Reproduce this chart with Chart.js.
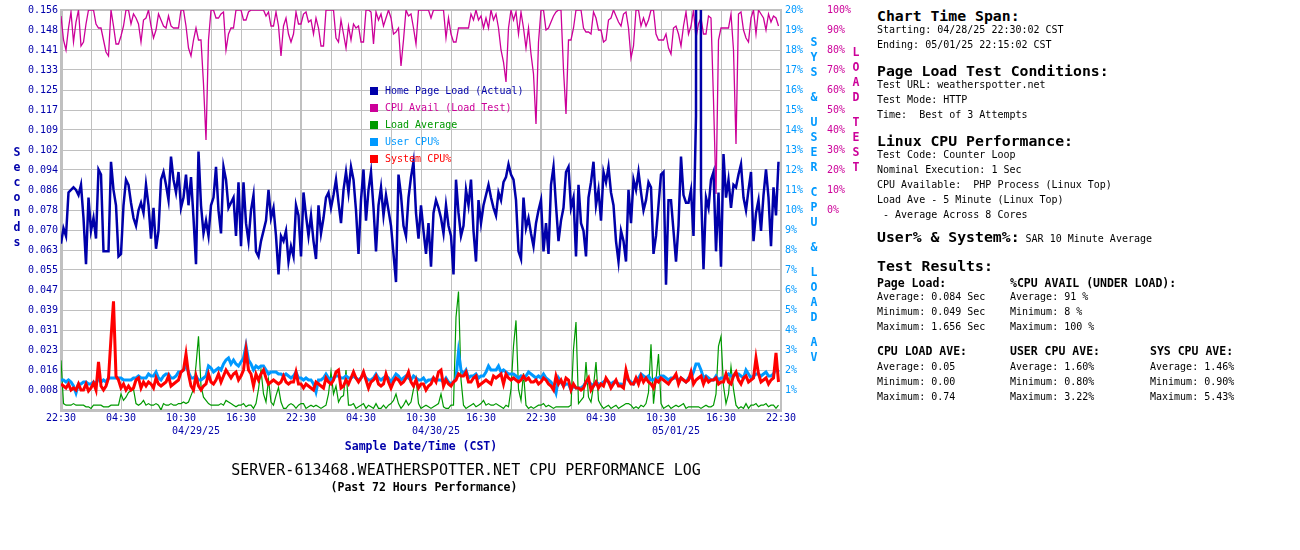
<!DOCTYPE html>
<html>
<head>
<meta charset="utf-8">
<script src="https://cdn.jsdelivr.net/npm/chart.js@4/dist/chart.umd.min.js"></script>
<style>
html,body{margin:0;padding:0;background:#fff;}
body{width:1300px;height:550px;position:relative;overflow:hidden;font-family:"DejaVu Sans Mono",monospace;}
#wrap{position:absolute;left:0;top:0;width:870px;height:550px;}
.t{position:absolute;white-space:pre;font-family:"DejaVu Sans Mono",monospace;color:#000;}
.h{font-size:14.8px;font-weight:bold;line-height:18px;}
.b{font-size:10px;line-height:14px;}
.sb{font-size:11.5px;font-weight:bold;line-height:14px;}
.stack{position:absolute;font-family:"DejaVu Sans Mono",monospace;font-weight:bold;font-size:11.5px;text-align:center;width:20px;}
.stack span{display:block;height:15px;line-height:15px;}
.stack span.sp{height:10px;}
.lgbox{position:absolute;width:8px;height:8px;}
.lgtxt{position:absolute;font-family:"DejaVu Sans Mono",monospace;font-size:10px;line-height:14px;white-space:pre;}
</style>
</head>
<body>
<div id="wrap"><canvas id="c" width="870" height="550"></canvas></div>
<div id="overlay"></div>
<script>
// ---------------- data ----------------
// 15-minute samples, 04/28/25 22:30 -> 05/01/25 22:15 CST
const pageLoad = [
0.065,0.071,0.068,0.085,0.086,0.087,0.086,0.084,0.088,0.075,
0.057,0.083,0.070,0.075,0.067,0.094,0.092,0.062,0.062,0.062,
0.097,0.086,0.080,0.060,0.061,0.080,0.090,0.088,0.081,0.075,
0.072,0.078,0.081,0.077,0.088,0.080,0.067,0.079,0.063,0.070,
0.090,0.093,0.088,0.082,0.099,0.090,0.085,0.093,0.079,0.083,
0.092,0.080,0.091,0.075,0.057,0.101,0.080,0.069,0.074,0.068,
0.080,0.083,0.095,0.078,0.069,0.095,0.090,0.079,0.081,0.083,
0.068,0.089,0.064,0.089,0.073,0.066,0.078,0.084,0.062,0.060,
0.066,0.070,0.074,0.086,0.075,0.079,0.068,0.053,0.068,0.066,
0.070,0.058,0.064,0.060,0.080,0.076,
0.060,0.085,0.076,0.068,0.076,0.066,0.059,0.080,0.069,0.075,
0.083,0.085,0.079,0.084,0.090,0.081,0.073,0.086,0.093,0.085,
0.095,0.090,0.078,0.061,0.082,0.094,0.074,0.086,0.093,0.079,
0.062,0.080,0.087,0.076,0.084,0.078,0.072,0.061,0.050,0.092,
0.084,0.072,0.068,0.083,0.091,0.097,0.077,0.067,0.080,0.070,
0.061,0.073,0.056,0.077,0.082,0.079,0.075,0.069,0.080,0.072,
0.068,0.053,0.090,0.077,0.068,0.072,0.086,0.080,0.090,0.070,
0.058,0.082,0.073,0.080,0.084,0.088,0.083,0.079,0.076,0.085,
0.082,0.089,0.091,0.096,0.092,0.090,0.082,0.062,0.059,0.083,
0.071,0.075,0.069,0.064,0.073,0.078,
0.082,0.062,0.073,0.061,0.088,0.095,0.080,0.066,0.074,0.079,
0.093,0.095,0.079,0.083,0.060,0.088,0.073,0.070,0.060,0.083,
0.089,0.097,0.080,0.086,0.074,0.093,0.089,0.095,0.085,0.080,
0.066,0.058,0.070,0.066,0.058,0.086,0.073,0.090,0.086,0.093,
0.085,0.078,0.082,0.089,0.087,0.061,0.068,0.080,0.092,0.093,
0.049,0.082,0.082,0.070,0.058,0.072,0.099,0.084,0.081,0.081,
0.086,0.068,0.115,1.656,0.086,0.055,0.083,0.079,0.090,0.093,
0.062,0.085,0.056,0.100,0.083,0.090,0.079,0.088,0.087,0.092,
0.096,0.083,0.078,0.086,0.093,0.066,0.077,0.082,0.070,0.084,
0.094,0.083,0.064,0.087,0.076,0.097
];

const cpuAvail = [
97,85,80,91,99,84,94,100,82,84,
93,100,100,100,93,91,91,85,79,77,
100,92,83,83,87,92,100,100,93,98,
96,93,84,95,96,100,92,86,90,98,
95,92,91,97,92,91,91,91,100,100,
92,81,77,85,91,85,85,63,35,85,
100,100,96,96,98,99,80,88,91,91,
100,100,100,95,95,99,100,100,100,100,
100,100,97,99,92,92,99,92,77,92,
96,88,84,88,99,93,
93,98,99,94,95,88,96,91,82,82,
100,100,100,100,86,84,95,88,81,92,
85,93,91,92,84,84,100,100,99,83,
99,95,98,92,96,100,96,88,89,91,
72,85,100,97,98,91,83,100,100,100,
100,100,96,100,100,100,100,100,86,96,
88,84,84,91,91,91,91,91,98,95,
100,95,97,91,96,91,100,95,98,91,
80,74,64,91,100,95,99,88,99,91,
81,91,78,68,43,84,
100,100,90,91,94,97,99,100,100,70,
48,85,85,91,100,100,100,91,89,89,
88,99,96,90,90,84,85,95,96,100,
97,94,92,98,99,91,76,82,100,100,
92,96,92,95,100,100,88,85,85,85,
88,81,78,91,92,88,82,92,99,88,
92,100,86,93,96,88,88,97,96,55,
8,85,91,91,91,91,98,80,33,98,
99,90,86,84,96,100,88,100,98,96,
90,98,94,97,96,92
];

const loadAverage = [
0.31,0.04,0.03,0.03,0.03,0.04,0.03,0.03,0.03,0.03,
0.02,0.02,0.01,0.03,0.03,0.03,0.03,0.02,0.02,0.02,
0.03,0.03,0.03,0.03,0.10,0.06,0.08,0.11,0.12,0.13,
0.04,0.03,0.04,0.06,0.03,0.04,0.03,0.03,0.04,0.03,
0.00,0.04,0.03,0.03,0.04,0.03,0.03,0.04,0.04,0.05,
0.04,0.05,0.09,0.13,0.28,0.46,0.15,0.08,0.06,0.04,
0.03,0.03,0.03,0.03,0.04,0.03,0.06,0.05,0.04,0.03,
0.02,0.03,0.03,0.04,0.02,0.03,0.03,0.01,0.04,0.13,
0.25,0.10,0.05,0.19,0.05,0.03,0.09,0.14,0.05,0.01,
0.01,0.03,0.04,0.03,0.01,0.03,
0.04,0.04,0.01,0.02,0.03,0.02,0.03,0.02,0.01,0.02,
0.03,0.10,0.24,0.10,0.15,0.05,0.08,0.09,0.25,0.03,
0.03,0.04,0.01,0.02,0.03,0.04,0.01,0.03,0.02,0.01,
0.04,0.01,0.01,0.03,0.01,0.03,0.04,0.06,0.10,0.04,
0.01,0.03,0.06,0.03,0.05,0.13,0.20,0.04,0.01,0.02,
0.03,0.02,0.01,0.02,0.03,0.04,0.10,0.02,0.01,0.01,
0.03,0.03,0.58,0.74,0.19,0.03,0.01,0.02,0.03,0.04,
0.02,0.03,0.04,0.06,0.03,0.04,0.03,0.03,0.04,0.03,
0.02,0.01,0.03,0.02,0.13,0.40,0.56,0.13,0.06,0.23,
0.03,0.01,0.02,0.01,0.02,0.03,
0.03,0.04,0.02,0.03,0.02,0.01,0.02,0.02,0.02,0.02,
0.02,0.02,0.03,0.38,0.55,0.04,0.06,0.08,0.30,0.08,
0.05,0.15,0.30,0.06,0.03,0.01,0.02,0.03,0.01,0.02,
0.03,0.01,0.02,0.03,0.04,0.04,0.03,0.01,0.02,0.01,
0.03,0.02,0.04,0.11,0.41,0.04,0.19,0.35,0.04,0.01,
0.02,0.03,0.01,0.02,0.03,0.02,0.03,0.04,0.01,0.02,
0.02,0.02,0.02,0.02,0.01,0.02,0.03,0.02,0.02,0.03,
0.10,0.40,0.46,0.15,0.04,0.10,0.27,0.13,0.03,0.01,
0.02,0.01,0.04,0.01,0.03,0.03,0.04,0.02,0.03,0.03,
0.04,0.02,0.03,0.03,0.01,0.03
];

const userCpu = [
1.5,1.5,1.4,1.5,1.4,1.2,0.85,1.3,1.3,1.4,
1.4,1.3,1.3,1.4,1.3,1.6,1.4,1.5,1.4,1.6,
1.6,1.6,1.6,1.6,1.6,1.5,1.5,1.5,1.5,1.6,
1.6,1.7,1.6,1.6,1.6,1.8,1.7,1.7,1.9,1.6,
1.5,1.7,1.8,1.8,1.6,1.6,1.7,1.9,1.9,2.0,
2.2,1.9,1.6,1.6,1.7,1.5,1.5,1.6,1.7,2.2,
2.1,1.9,2.0,2.1,2.0,2.3,2.5,2.6,2.3,2.5,
2.3,2.2,2.4,2.6,3.22,2.5,2.3,2.0,2.2,2.1,
2.2,2.2,2.0,1.8,1.9,1.9,1.9,1.8,1.8,1.7,
1.8,1.7,1.6,1.7,1.9,1.6,
1.6,1.5,1.6,1.5,1.5,1.3,0.9,1.5,1.5,1.6,
1.8,1.6,1.5,1.6,1.7,1.7,1.6,1.6,1.7,1.6,
1.6,1.7,1.6,1.5,1.6,1.8,1.6,1.5,1.5,1.6,
1.8,1.6,1.5,1.6,1.7,1.6,1.4,1.6,1.8,1.7,
1.5,1.6,1.7,1.6,1.5,1.7,1.6,1.5,1.5,1.6,
1.4,1.5,1.5,1.6,1.5,1.5,1.5,1.4,1.6,1.4,
1.3,1.4,1.6,2.9,2.0,1.8,2.0,1.6,1.7,1.7,
1.8,1.6,1.7,1.7,1.9,2.2,2.0,2.0,2.0,2.2,
1.9,2.0,1.9,1.8,1.8,1.8,1.7,1.6,1.7,1.6,
1.7,1.9,1.8,1.7,1.6,1.7,
1.6,1.8,1.6,1.5,1.4,1.2,0.85,1.6,1.4,1.2,
1.3,1.3,1.0,1.2,1.1,1.1,1.1,1.2,1.4,1.4,
1.3,1.2,1.4,1.3,1.3,1.4,1.5,1.4,1.3,1.4,
1.4,1.3,1.3,1.2,1.7,1.5,1.4,1.3,1.5,1.6,
1.8,1.7,1.6,1.7,1.5,1.5,1.6,1.6,1.7,1.7,
1.6,1.5,1.6,1.6,1.6,1.5,1.6,1.5,1.4,1.6,
1.6,1.9,2.3,2.3,2.0,1.6,1.7,1.6,1.5,1.5,
1.7,1.5,1.6,1.6,1.7,1.8,1.7,1.7,1.8,1.8,
1.7,1.6,2.0,1.8,1.6,1.7,1.8,1.8,1.7,1.8,
1.9,1.7,1.7,1.8,2.1,1.9
];

const systemCpu = [
1.3,1.2,1.1,1.3,1.0,1.1,1.0,1.3,1.0,1.0,
1.3,0.95,1.1,1.35,1.0,2.4,1.2,1.0,1.2,1.6,
3.6,5.43,1.7,1.5,1.1,1.3,1.0,1.2,1.0,1.1,
1.5,1.6,1.1,1.4,1.2,1.4,1.3,1.1,1.6,1.3,
1.2,1.3,1.4,1.7,1.2,1.3,1.4,1.5,1.9,2.0,
2.8,1.8,1.2,1.0,1.7,1.2,1.0,1.2,1.3,1.8,
1.4,1.3,1.5,1.8,1.4,1.7,2.0,1.8,1.6,1.8,
1.9,1.5,1.7,2.0,3.0,2.0,1.8,1.2,1.8,1.5,
1.8,2.0,1.6,1.3,1.4,1.5,1.4,1.3,1.4,1.7,
1.4,1.3,1.4,1.4,1.9,1.3,
1.3,1.1,1.3,1.2,1.1,1.0,1.4,1.3,1.2,1.1,
1.6,1.4,1.3,1.5,1.9,2.0,1.1,1.2,1.5,1.3,
1.6,1.9,1.6,1.4,1.6,1.9,1.5,1.1,1.4,1.5,
1.7,1.3,1.2,1.3,1.8,1.4,1.1,1.4,1.6,1.5,
1.3,1.4,1.6,1.9,1.4,1.2,1.5,1.1,1.3,1.3,
1.0,1.2,1.3,1.6,1.4,1.9,2.0,1.2,1.5,1.3,
1.2,1.4,1.5,1.8,1.7,1.7,1.9,1.4,1.4,1.6,
1.7,1.2,1.3,1.4,1.5,1.4,1.3,1.7,1.6,1.7,
1.8,1.3,1.8,1.6,1.5,1.6,1.5,1.4,1.5,1.7,
1.5,1.6,1.4,1.4,1.5,1.3,
1.4,1.6,1.5,1.3,1.2,1.0,1.7,1.3,1.5,1.2,
1.6,1.5,1.0,1.3,1.1,1.1,1.0,1.1,1.4,1.6,
1.0,1.2,1.4,1.1,1.3,1.2,1.6,1.4,1.1,1.3,
1.5,1.2,1.2,1.1,2.0,1.5,1.3,1.3,1.6,1.3,
1.7,1.4,1.6,1.4,1.3,1.1,1.5,1.4,1.6,1.5,
1.4,1.3,1.5,1.6,1.8,1.3,1.6,1.5,1.4,1.5,
1.9,1.3,1.5,1.6,1.7,1.3,1.6,1.4,1.5,1.5,
1.6,1.3,1.4,1.4,1.8,1.4,1.3,1.7,1.9,1.5,
1.3,1.6,1.7,1.4,1.5,1.6,2.6,1.8,1.4,1.5,
1.6,1.3,1.5,1.6,2.85,1.4
];

// tick labels
const hourLabels = ['22:30','04:30','10:30','16:30','22:30','04:30','10:30','16:30','22:30','04:30','10:30','16:30','22:30'];
const dateLabels = ['04/29/25','04/30/25','05/01/25'];
const secondsLabels = ['0.008','0.016','0.023','0.031','0.039','0.047','0.055','0.063','0.070','0.078',
                       '0.086','0.094','0.102','0.109','0.117','0.125','0.133','0.141','0.148','0.156'];
const cpuPctLabels = ['1%','2%','3%','4%','5%','6%','7%','8%','9%','10%','11%','12%','13%','14%','15%','16%','17%','18%','19%','20%'];
const loadTestLabels = ['0%','10%','20%','30%','40%','50%','60%','70%','80%','90%','100%'];

const seriesNames = ['Home Page Load (Actual)','CPU Avail (Load Test)','Load Average','User CPU%','System CPU%'];
const seriesColors = ['#0000aa','#cc0099','#009900','#0099ff','#ff0000'];

// ---------------- chart ----------------
const MONO = '"DejaVu Sans Mono", monospace';
const HOURS_PER_SAMPLE = 0.25;
const SPAN_HOURS = 72;
const SEC_MAX = 0.1563;
const CORES = 8;
const toPts = arr => arr.map((v, i) => ({x: i * HOURS_PER_SAMPLE, y: v}));
const gridHours = [];
for (let h = 0; h <= SPAN_HOURS; h += 3) gridHours.push(h);
const dayCenters = [13.5, 37.5, 61.5];

Chart.defaults.font.family = MONO;

new Chart(document.getElementById('c'), {
  type: 'line',
  data: {
    datasets: [
      {label: seriesNames[0], data: toPts(pageLoad), borderColor: seriesColors[0], borderWidth: 2.5, yAxisID: 'y'},
      {label: seriesNames[4], data: toPts(systemCpu), borderColor: seriesColors[4], borderWidth: 3, yAxisID: 'y1'},
      {label: seriesNames[3], data: toPts(userCpu), borderColor: seriesColors[3], borderWidth: 3, yAxisID: 'y1'},
      {label: seriesNames[2], data: toPts(loadAverage), borderColor: seriesColors[2], borderWidth: 1.2, yAxisID: 'yLoad'},
      {label: seriesNames[1], data: toPts(cpuAvail), borderColor: seriesColors[1], borderWidth: 1.3, yAxisID: 'y2'}
    ]
  },
  options: {
    responsive: false,
    animation: false,
    devicePixelRatio: 1,
    layout: {padding: {top: 10, bottom: 96, left: 0, right: 0}},
    elements: {point: {radius: 0}, line: {tension: 0}},
    plugins: {legend: {display: false}, tooltip: {enabled: false}},
    scales: {
      x: {
        type: 'linear', position: 'bottom', min: 0, max: SPAN_HOURS,
        afterBuildTicks: ax => { ax.ticks = gridHours.map(v => ({value: v})); },
        ticks: {autoSkip: false, maxRotation: 0, padding: 2, color: '#0000aa', font: {size: 10},
                callback: v => (v % 6 === 0 ? hourLabels[v / 6] : '')},
        grid: {color: '#c0c0c0', drawTicks: false,
               lineWidth: c => (c.tick && (c.tick.value === 24 || c.tick.value === 48)) ? 2 : 1},
        border: {display: true, color: '#c0c0c0', width: 3},
        afterFit: ax => { ax.height = 14; }
      },
      xDate: {
        type: 'linear', position: 'bottom', min: 0, max: SPAN_HOURS,
        afterBuildTicks: ax => { ax.ticks = dayCenters.map(v => ({value: v})); },
        ticks: {autoSkip: false, maxRotation: 0, padding: 1, color: '#0000aa', font: {size: 10},
                callback: (v, i) => dateLabels[i]},
        grid: {display: false, drawTicks: false},
        border: {display: false},
        title: {display: true, text: 'Sample Date/Time (CST)', color: '#0000aa',
                font: {size: 11.5, weight: 'bold'}, padding: {top: 0, bottom: 0}},
        afterFit: ax => { ax.height = 30; }
      },
      y: {
        type: 'linear', position: 'left', min: 0, max: SEC_MAX,
        afterBuildTicks: ax => { ax.ticks = Array.from({length: 21}, (_, k) => ({value: k * SEC_MAX / 20})); },
        ticks: {autoSkip: false, padding: 3, color: '#0000aa', font: {size: 10},
                callback: (v, i) => (i === 0 ? '' : secondsLabels[i - 1])},
        grid: {color: '#c0c0c0', drawTicks: false, lineWidth: c => (c.index === 20 ? 2 : 1)},
        border: {display: true, color: '#c0c0c0', width: 3},
        afterFit: ax => { ax.width = 61; }
      },
      y1: {
        type: 'linear', position: 'right', min: 0, max: 20,
        afterBuildTicks: ax => { ax.ticks = Array.from({length: 21}, (_, k) => ({value: k})); },
        ticks: {autoSkip: false, padding: 4, color: '#0099ff', font: {size: 10},
                callback: (v, i) => (i === 0 ? '' : cpuPctLabels[i - 1])},
        grid: {display: false, drawTicks: false},
        border: {display: true, color: '#c0c0c0', width: 2},
        afterFit: ax => { ax.width = 44; }
      },
      y2: {
        type: 'linear', position: 'right', min: -100, max: 100,
        afterBuildTicks: ax => { ax.ticks = Array.from({length: 11}, (_, k) => ({value: k * 10})); },
        ticks: {autoSkip: false, padding: 2, color: '#cc0099', font: {size: 10},
                callback: (v, i) => loadTestLabels[i]},
        grid: {display: false, drawTicks: false},
        border: {display: false},
        afterFit: ax => { ax.width = 45; }
      },
      yLoad: {type: 'linear', display: false, min: 0, max: 20 / CORES}
    }
  }
});

// ---------------- text overlays ----------------
const ov = document.getElementById('overlay');
function add(html) { ov.insertAdjacentHTML('beforeend', html); }
function txt(cls, x, cy, lh, s, extra) {
  add(`<div class="t ${cls}" style="left:${x}px;top:${cy - lh / 2}px;${extra || ''}">${s}</div>`);
}
function stack(cx, firstCy, word, color) {
  let inner = '';
  for (const ch of word) inner += ch === ' ' ? '<span class="sp"></span>' : `<span>${ch === '&' ? '&amp;' : ch}</span>`;
  add(`<div class="stack" style="left:${cx - 10}px;top:${firstCy - 7.5}px;color:${color}">${inner}</div>`);
}
stack(17, 152, 'Seconds', '#0000aa');
stack(814, 42, 'SYS & USER CPU & LOAD AV', '#0099ff');
stack(856, 52, 'LOAD TEST', '#cc0099');

// legend
seriesNames.forEach((n, k) => {
  const cy = 91 + k * 17;
  add(`<div class="lgbox" style="left:370px;top:${cy - 4}px;background:${seriesColors[k]}"></div>`);
  add(`<div class="lgtxt" style="left:385px;top:${cy - 7}px;color:${seriesColors[k]}">${n}</div>`);
});

// titles
add(`<div class="t" style="left:0;width:932px;text-align:center;top:461px;font-size:15px;line-height:18px;">SERVER-613468.WEATHERSPOTTER.NET CPU PERFORMANCE LOG</div>`);
add(`<div class="t" style="left:0;width:848px;text-align:center;top:480px;font-size:11.5px;font-weight:bold;line-height:14px;">(Past 72 Hours Performance)</div>`);

// right panel
const X1 = 877, X2 = 1010, X3 = 1150;
txt('h', X1, 16, 18, 'Chart Time Span:');
txt('b', X1, 30, 14, 'Starting: 04/28/25 22:30:02 CST');
txt('b', X1, 45, 14, 'Ending: 05/01/25 22:15:02 CST');
txt('h', X1, 71, 18, 'Page Load Test Conditions:');
txt('b', X1, 85, 14, 'Test URL: weatherspotter.net');
txt('b', X1, 100, 14, 'Test Mode: HTTP');
txt('b', X1, 115, 14, 'Time:  Best of 3 Attempts');
txt('h', X1, 141, 18, 'Linux CPU Performance:');
txt('b', X1, 155, 14, 'Test Code: Counter Loop');
txt('b', X1, 170, 14, 'Nominal Execution: 1 Sec');
txt('b', X1, 185, 14, 'CPU Available:  PHP Process (Linux Top)');
txt('b', X1, 200, 14, 'Load Ave - 5 Minute (Linux Top)');
txt('b', X1, 215, 14, ' - Average Across 8 Cores');
txt('h', X1, 237, 18, 'User% &amp; System%:<span style="font-size:10px;font-weight:normal"> SAR 10 Minute Average</span>');
txt('h', X1, 266, 18, 'Test Results:');
txt('sb', X1, 283, 14, 'Page Load:');
txt('sb', X2, 283, 14, '%CPU AVAIL (UNDER LOAD):');
txt('b', X1, 297, 14, 'Average: 0.084 Sec');
txt('b', X1, 312, 14, 'Minimum: 0.049 Sec');
txt('b', X1, 327, 14, 'Maximum: 1.656 Sec');
txt('b', X2, 297, 14, 'Average: 91 %');
txt('b', X2, 312, 14, 'Minimum: 8 %');
txt('b', X2, 327, 14, 'Maximum: 100 %');
txt('sb', X1, 351, 14, 'CPU LOAD AVE:');
txt('sb', X2, 351, 14, 'USER CPU AVE:');
txt('sb', X3, 351, 14, 'SYS CPU AVE:');
txt('b', X1, 367, 14, 'Average: 0.05');
txt('b', X1, 382, 14, 'Minimum: 0.00');
txt('b', X1, 397, 14, 'Maximum: 0.74');
txt('b', X2, 367, 14, 'Average: 1.60%');
txt('b', X2, 382, 14, 'Minimum: 0.80%');
txt('b', X2, 397, 14, 'Maximum: 3.22%');
txt('b', X3, 367, 14, 'Average: 1.46%');
txt('b', X3, 382, 14, 'Minimum: 0.90%');
txt('b', X3, 397, 14, 'Maximum: 5.43%');
</script>
</body>
</html>
